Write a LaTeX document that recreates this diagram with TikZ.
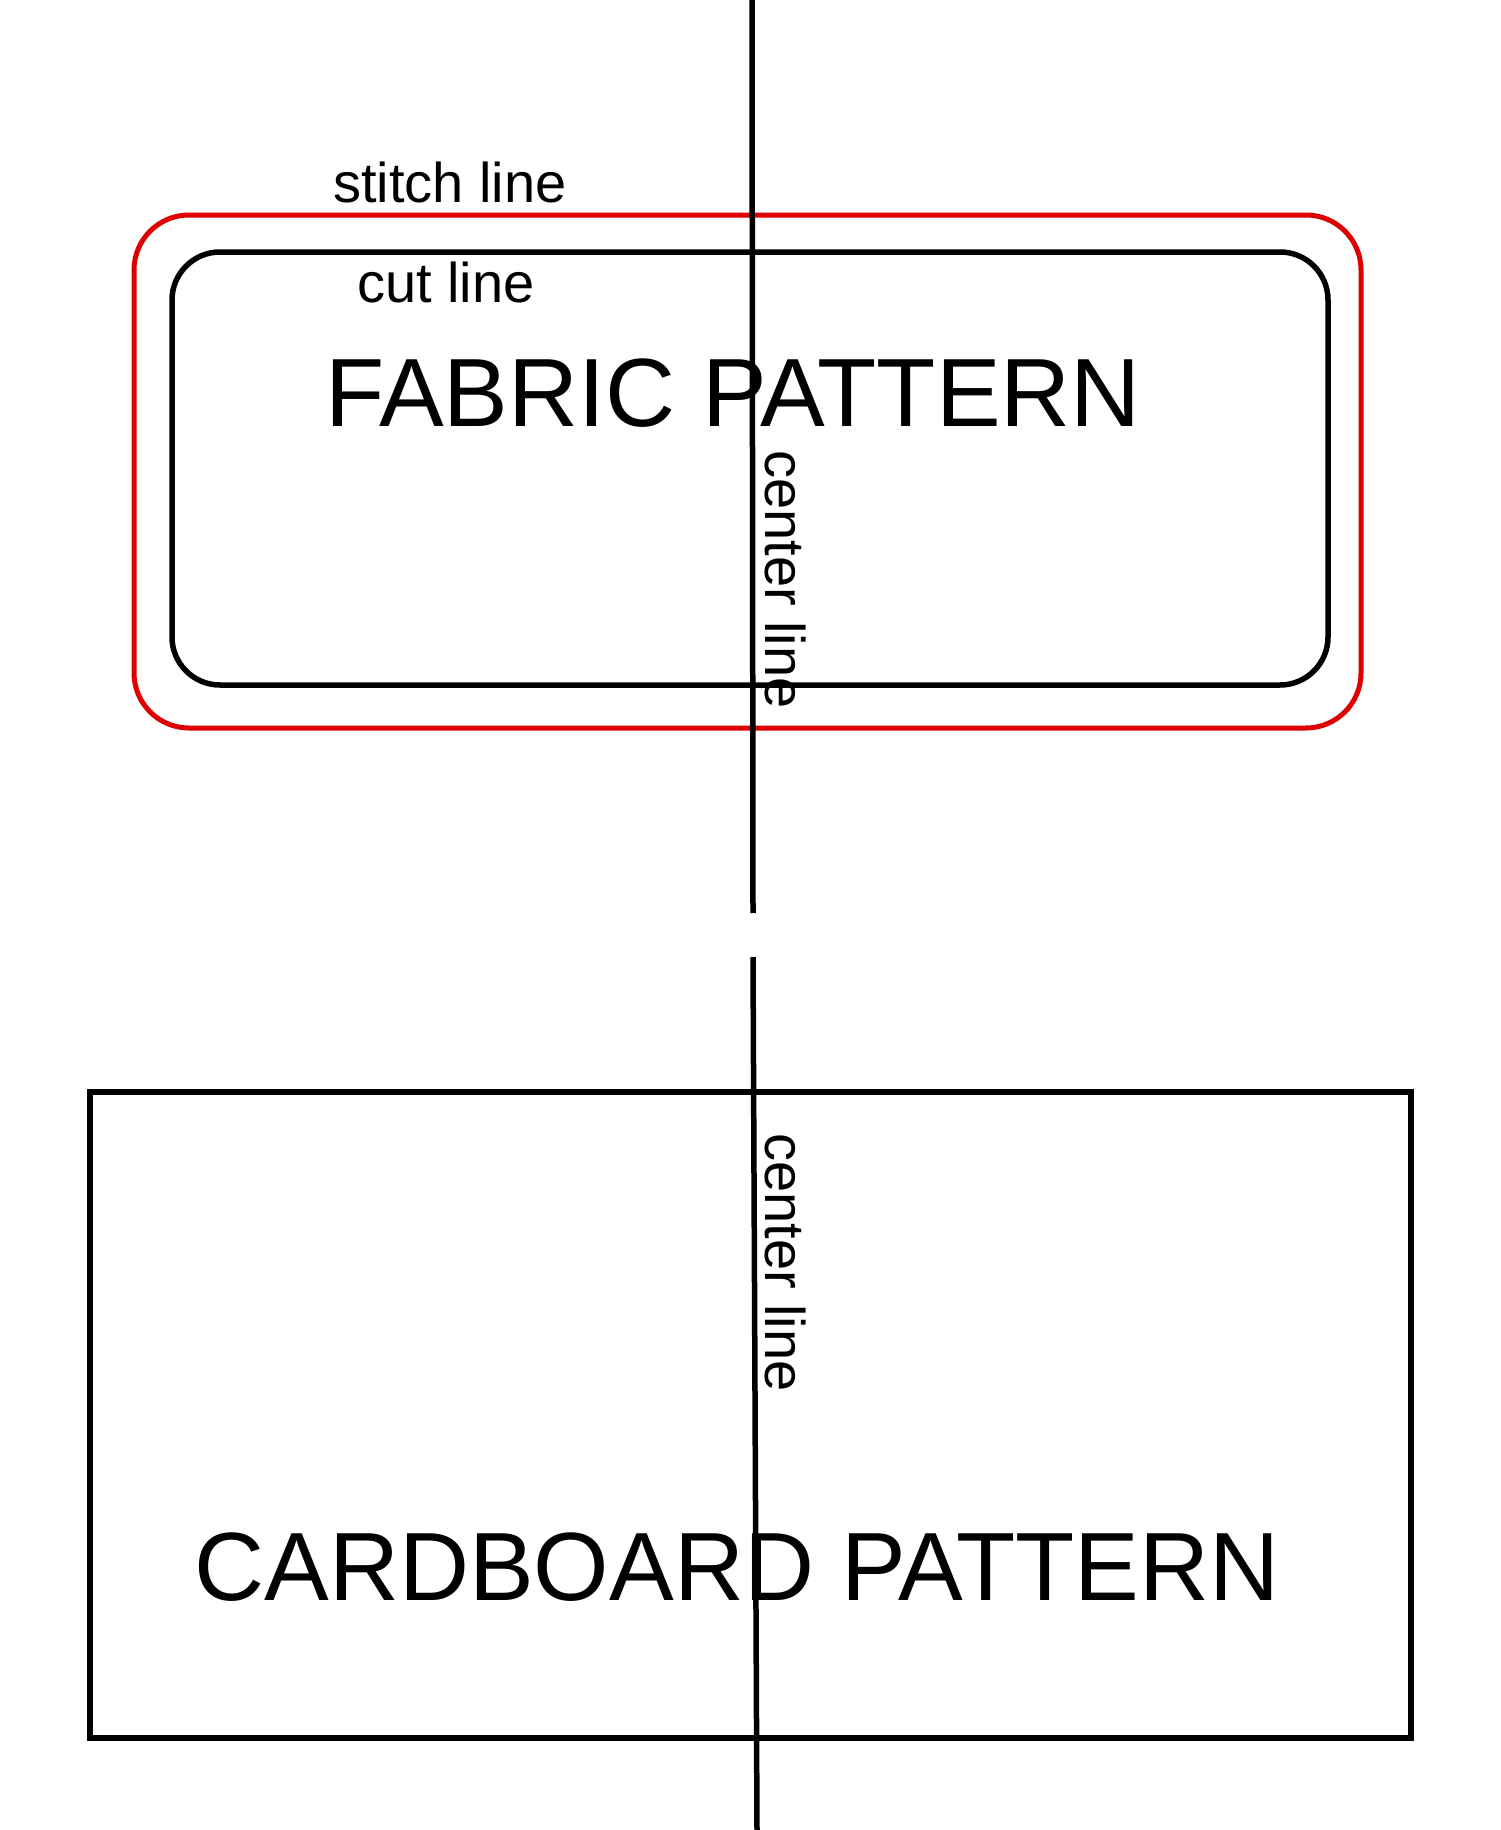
\documentclass[tikz,border=0pt]{standalone}
\usepackage{fontspec}
\setmainfont{Liberation Sans}
\definecolor{stitchred}{RGB}{222,0,0}
\begin{document}
\begin{tikzpicture}[x=1pt,y=-1pt,
  line/.style={line width=5.5pt,black},
  small/.style={inner sep=0pt,font=\fontsize{56}{60}\selectfont},
  big/.style={inner sep=0pt,font=\fontsize{97}{100}\selectfont}]
\useasboundingbox[fill=white] (0,0) rectangle (1500,1830);
% fabric pattern outlines
\draw[line width=5pt,stitchred,rounded corners=55pt] (134,215) rectangle (1361,728);
\draw[line,rounded corners=48pt] (172,252) rectangle (1328,685);
% cardboard pattern
\draw[line] (90,1092) rectangle (1411,1738);
% center line
\coordinate (c1) at (752,0);
\coordinate (c2) at (753,913);
\coordinate (c3) at (753,957);
\coordinate (c4) at (757,1830);
\draw[line] (c1) -- (c2);
\draw[line] (c3) -- (c4);
% labels
\node[small,anchor=base] (stitch) at (450,203) {stitch line};
\node[small,anchor=base] (cut) at (446,302) {cut line};
\node[big,anchor=base] (fabric) at (733,426) {FABRIC PATTERN};
\node[big,anchor=base] (card) at (737,1600) {CARDBOARD PATTERN};
\node[small,rotate=-90,anchor=base west] (cl1) at (765,450) {center line};
\node[small,rotate=-90,anchor=base west] (cl2) at (765,1133) {center line};
\end{tikzpicture}
\end{document}
